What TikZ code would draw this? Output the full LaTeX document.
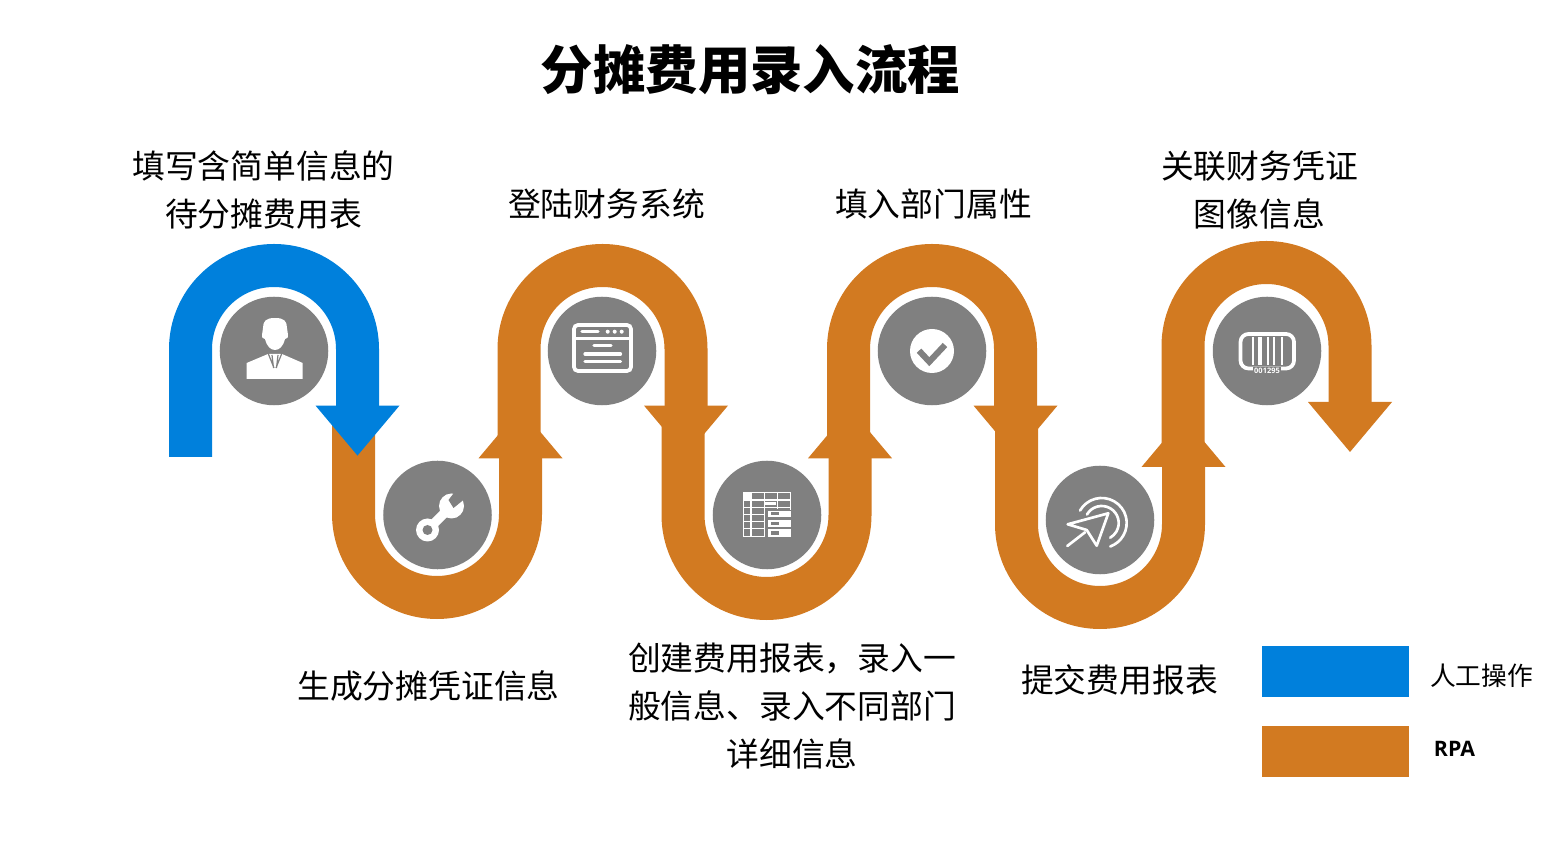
\documentclass[tikz,border=0pt]{standalone}
\usepackage{fontspec}
\newfontfamily\cjkfont{Noto Sans CJK SC}
\newfontfamily\legendfont{Open Sans}
\definecolor{bandblue}{RGB}{0,128,220}
\definecolor{bandorange}{RGB}{210,122,33}
\definecolor{icongray}{RGB}{128,128,128}
\tikzset{
    band/.style={line width=32.25pt},
    iconcirc/.style={circle, fill=icongray, minimum size=81.4pt, inner sep=0pt},
    steplabel/.style={align=center, font=\cjkfont\fontsize{24.6}{36}\selectfont},
    legendbox/.style={minimum width=110.25pt, minimum height=38.25pt, inner sep=0pt}
}
\newcommand{\tikzarchband}[5]{%
    \draw[band, #1] ({#2-83.5},#4) -- ({#2-83.5},#3) arc (180:0:83.5) -- ({#2+83.5},{#5-2});
    \fill[#1] ({#2+83.5-42},#5) -- ({#2+83.5+42},#5) -- ({#2+83.5},{#5-50}) -- cycle;
}
\newcommand{\tikzubend}[5]{%
    \draw[band, #1] ({#2-83.5},#4) -- ({#2-83.5},#3) arc (180:360:83.5) -- ({#2+83.5},{#5+2});
    \fill[#1] ({#2+83.5-42},#5) -- ({#2+83.5+42},#5) -- ({#2+83.5},{#5+50}) -- cycle;
}

\begin{document}
\begin{tikzpicture}[x=0.75pt, y=0.75pt]
    \useasboundingbox (0,0) rectangle (1566,867);

    % lower bends first, the arches lie over their ends
    \tikzubend{bandorange}{437}{353}{447}{408.7};
    \tikzubend{bandorange}{766.5}{352}{447}{408.7};
    \tikzubend{bandorange}{1100}{343}{447}{400};

    \tikzarchband{bandblue}{274}{518}{410}{461.4};
    \tikzarchband{bandorange}{602.5}{518}{427}{461.4};
    \tikzarchband{bandorange}{932}{518}{427}{461.4};
    \tikzarchband{bandorange}{1266.5}{521}{422}{465};

    \node[iconcirc] (icUser) at (274,516) {};
    \node[iconcirc] (icWrench) at (437.5,352) {};
    \node[iconcirc] (icWindow) at (602,516) {};
    \node[iconcirc] (icTable) at (767,352) {};
    \node[iconcirc] (icCheck) at (932,516) {};
    \node[iconcirc] (icSend) at (1100,347) {};
    \node[iconcirc] (icCode) at (1267,516) {};

    % person
    \begin{scope}[shift={(icUser)}]
        \fill[white] (1,33) .. controls (10,33) and (13,30) .. (13,23) -- (14,16)
            .. controls (14,13) .. (11,12) .. controls (9,4) and (5,1) .. (1,1)
            .. controls (-3,1) and (-7,4) .. (-9,12) .. controls (-12,13) .. (-12,16)
            -- (-11,23) .. controls (-11,30) and (-8,33) .. (1,33) -- cycle;
        \fill[white] (-27.3,-28) -- (-27.3,-12) -- (-6,-3) -- (8,-3) -- (28.7,-12) -- (28.7,-28) -- cycle;
        \draw[icongray, line width=0.9pt] (-6,-2) -- (0,-17) (8,-2) -- (2,-17) (-2,-4) -- (-0.5,-17) (4,-4) -- (2.5,-17);
    \end{scope}

    % wrench
    \begin{scope}[shift={(icWrench)}]
        \draw[white, line width=7pt] (-10,-15) -- (8,3);
        \fill[white] (-10,-15) circle (11.5);
        \fill[icongray] (-10,-15) circle (5);
        \fill[white] (14,9) circle (12.5);
        \fill[icongray] (11,15) -- (16,7) -- (32,20) -- (24,32) -- cycle;
    \end{scope}

    % window
    \begin{scope}[shift={(icWindow)}]
        \draw[white, line width=2.8pt, rounded corners=3pt] (-28,-20) rectangle (29,26);
        \draw[white, line width=2.4pt] (-28,12.7) -- (29,12.7);
        \draw[white, line width=2.4pt, line cap=round] (-20,19.3) -- (-4,19.3)
            (-8,5.3) -- (9,5.3) (-17,-3) -- (18.5,-3) (-17,-10.7) -- (18.5,-10.7);
        \foreach \dotx in {5.7,12.7,19.7} {
            \fill[white] (\dotx,19.3) circle (2);
        }
    \end{scope}

    % table
    \begin{scope}[shift={(icTable)}]
        \draw[white, line width=1.1pt] (-23.7,-21.7) rectangle (23.7,22.7);
        \foreach \colx in {-16,-2.7,10.3} {
            \draw[white, line width=1.1pt] (\colx,-21.7) -- (\colx,22.7);
        }
        \foreach \rowy in {15,7.7,0.7,-6.7,-13.7} {
            \draw[white, line width=1.1pt] (-23.7,\rowy) -- (23.7,\rowy);
        }
        \fill[white] (-23.7,15) rectangle (-16,22.7);
        \fill[white] (-1.7,10) rectangle (9,13.3);
        \fill[icongray] (-2,-24) rectangle (26,6);
        \foreach \rowy/\rowh in {-2.3/6.6, -11.7/6.7, -21.7/7.4} {
            \fill[white] (1.3,\rowy) rectangle (23.7,{\rowy+\rowh});
            \fill[icongray] (3.7,{\rowy+1.8}) rectangle (12.3,{\rowy+\rowh-1.8});
        }
        \draw[white, line width=1.1pt] (-2.7,-21.7) -- (-2.7,7.7) -- (23.7,7.7) -- (23.7,5);
    \end{scope}

    % check mark
    \begin{scope}[shift={(icCheck)}]
        \fill[white] (0,0) circle (22);
        \draw[icongray, line width=4.6pt] (-13,0.3) -- (-2.7,-10.7) -- (13,6);
    \end{scope}

    % paper plane with rings
    \begin{scope}[shift={(icSend)}]
        \draw[white, line width=2pt, line join=round] (8.3,6.7) -- (-32.3,-4.3) -- (-13.3,-10) -- (-3.3,-25.7) -- cycle;
        \draw[white, line width=2pt, line cap=round] (-15,-12.3) -- (-32.7,-26);
        \draw[white, line width=2pt, line cap=round] (1.7,-3) ++(150:25) arc (150:-70:25);
        \draw[white, line width=2pt, line cap=round] (1.7,-3) ++(150:17) arc (150:-60:17);
    \end{scope}

    % barcode
    \begin{scope}[shift={(icCode)}]
        \draw[white, line width=2.8pt, rounded corners=6pt] (-26.5,-17.5) rectangle (27,17);
        \foreach \barx/\barw in {-14.3/1.6, -7/2.6, 1.3/1.6, 7/1.6, 15.3/1.6} {
            \draw[white, line width=\barw pt] (\barx,14) -- (\barx,-14.3);
        }
        \node[fill=icongray, inner xsep=1pt, inner ysep=0.5pt, text=white, font=\legendfont\bfseries\fontsize{5.6}{6}\selectfont] (codeNo) at (0,-19.7) {001295};
    \end{scope}

    \node[font=\cjkfont\bfseries\fontsize{39.3}{44}\selectfont] (chartTitle) at (750.5,797) {分摊费用录入流程};

    \node[steplabel] (stepA) at (263.5,677) {填写含简单信息的\\待分摊费用表};
    \node[steplabel] (stepB) at (428.5,181) {生成分摊凭证信息};
    \node[steplabel] (stepC) at (606.5,663) {登陆财务系统};
    \node[steplabel] (stepD) at (792,161) {创建费用报表，录入一\\般信息、录入不同部门\\详细信息};
    \node[steplabel] (stepE) at (933.5,663) {填入部门属性};
    \node[steplabel] (stepF) at (1119.5,187) {提交费用报表};
    \node[steplabel] (stepG) at (1259.5,677) {关联财务凭证\\图像信息};

    \node[legendbox, fill=bandblue] (keyManual) at (1335.5,195.5) {};
    \node[legendbox, fill=bandorange] (keyRpa) at (1335.5,115.5) {};
    \node[font=\cjkfont\fontsize{19.3}{24}\selectfont] (keyManualText) at (1481.5,191) {人工操作};
    \node[font=\legendfont\bfseries\fontsize{16}{20}\selectfont] (keyRpaText) at (1454.5,118.5) {RPA};
\end{tikzpicture}
\end{document}
